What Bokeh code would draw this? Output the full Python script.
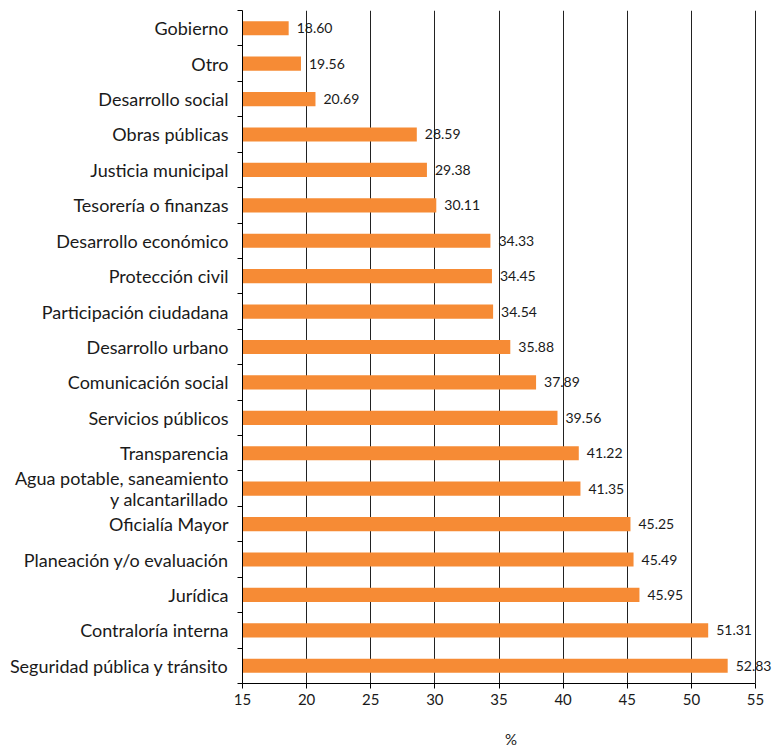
from bokeh.plotting import figure
from bokeh.models import ColumnDataSource, FixedTicker, Range1d, LabelSet
from bokeh.core.properties import value
from bokeh.embed import file_html
from bokeh.resources import INLINE

# Areas, listed from top to bottom
areas = [
    "Gobierno", "Otro", "Desarrollo social", "Obras públicas",
    "Justicia municipal", "Tesorería o finanzas", "Desarrollo económico",
    "Protección civil", "Participación ciudadana", "Desarrollo urbano",
    "Comunicación social", "Servicios públicos", "Transparencia",
    "Agua potable, saneamiento\ny alcantarillado", "Oficialía Mayor",
    "Planeación y/o evaluación", "Jurídica", "Contraloría interna",
    "Seguridad pública y tránsito",
]
percent = [
    18.60, 19.56, 20.69, 28.59, 29.38, 30.11, 34.33, 34.45, 34.54, 35.88,
    37.89, 39.56, 41.22, 41.35, 45.25, 45.49, 45.95, 51.31, 52.83,
]
x_ticks = [15, 20, 25, 30, 35, 40, 45, 50, 55]

n = len(areas)
ypos = [n - 1 - i for i in range(n)]
src = ColumnDataSource(dict(
    y=ypos, v=percent, lbl=[f"{v:.2f}" for v in percent],
))

FONT = "Lato"
ORANGE = "#F68B35"
TEXT = "#1a1a1a"

p = figure(width=779, height=752, output_backend="svg", toolbar_location=None,
           x_range=Range1d(15, 56.87), y_range=Range1d(-0.5, n - 0.5),
           min_border_left=242, min_border_right=0, min_border_top=10,
           min_border_bottom=69)
p.outline_line_color = None
p.background_fill_color = "white"

p.hbar(y="y", left=15, right="v", height=0.4, source=src,
       fill_color=ORANGE, line_color=None)

labels = LabelSet(x="v", y="y", text="lbl", source=src, x_offset=8,
                  text_baseline="middle", text_font=value(FONT),
                  text_font_size=value("14px"), text_color=value(TEXT))
p.add_layout(labels)

# x axis
p.xaxis.ticker = FixedTicker(ticks=x_ticks)
p.xaxis.bounds = (15, 55)
p.xaxis.axis_label = "%"
p.xaxis.axis_label_standoff = 22
p.xaxis.axis_label_text_font = FONT
p.xaxis.axis_label_text_font_style = "normal"
p.xaxis.axis_label_text_font_size = "15px"
p.xaxis.axis_label_text_color = TEXT
p.xaxis.major_label_text_font = FONT
p.xaxis.major_label_text_font_size = "15px"
p.xaxis.major_label_text_color = TEXT
p.xaxis.major_tick_out = 5
p.xaxis.major_tick_in = 0
p.xaxis.minor_tick_line_color = None
p.xaxis.axis_line_color = "black"
p.xaxis.major_tick_line_color = "black"

# y axis: labels at bar centres, ticks at category boundaries
p.yaxis.ticker = FixedTicker(ticks=ypos,
                             minor_ticks=[i - 0.5 for i in range(n + 1)])
p.yaxis.major_label_overrides = {y: a for y, a in zip(ypos, areas)}
p.yaxis.major_tick_out = 0
p.yaxis.major_tick_in = 0
p.yaxis.minor_tick_out = 5
p.yaxis.minor_tick_in = 0
p.yaxis.minor_tick_line_color = "black"
p.yaxis.axis_line_color = "black"
p.yaxis.major_label_standoff = 9
p.yaxis.major_label_text_font = FONT
p.yaxis.major_label_text_font_size = "18px"
p.yaxis.major_label_text_line_height = 0.95
p.yaxis.major_label_text_color = TEXT

p.xgrid.ticker = FixedTicker(ticks=x_ticks)
p.xgrid.grid_line_color = "#222222"
p.xgrid.grid_line_width = 1
p.ygrid.grid_line_color = None

open("out.html", "w").write(file_html(p, INLINE))
